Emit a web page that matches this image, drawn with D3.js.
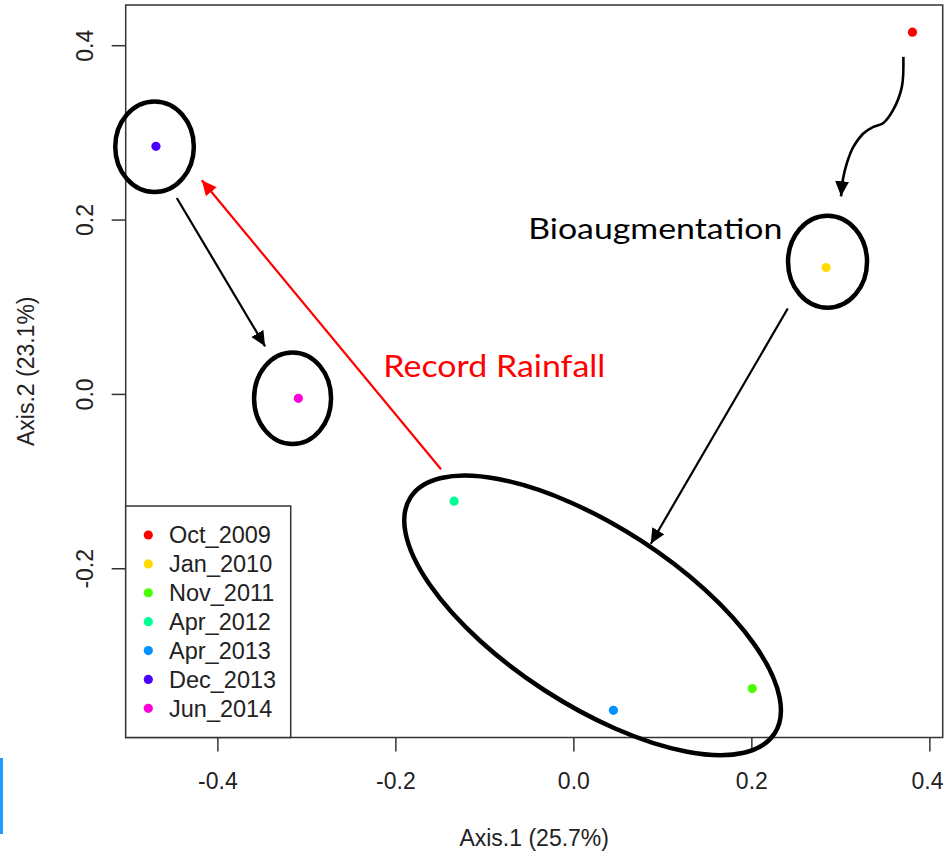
<!DOCTYPE html>
<html>
<head>
<meta charset="utf-8">
<script src="https://cdn.jsdelivr.net/npm/d3@7"></script>
<style>
  body { margin: 0; background: #fff; }
  svg { display: block; }
</style>
</head>
<body>
<div id="canvas"></div>
<script>
// PCoA sample scores
const sampleNames = ["Oct_2009", "Jan_2010", "Nov_2011", "Apr_2012", "Apr_2013", "Dec_2013", "Jun_2014"];
const axis1 = [0.381, 0.284, 0.201, -0.134, 0.045, -0.469, -0.309];
const axis2 = [0.415, 0.145, -0.338, -0.123, -0.363, 0.284, -0.005];
const sampleColors = ["#FF0000", "#FFDB00", "#49FF00", "#00FF92", "#0092FF", "#4900FF", "#FF00DB"];
const xTicks = [-0.4, -0.2, 0.0, 0.2, 0.4];
const yTicks = [-0.2, 0.0, 0.2, 0.4];
const xLabel = "Axis.1 (25.7%)";
const yLabel = "Axis.2 (23.1%)";

const w = 944;
const h = 853;
const plotL = 125.7, plotR = 942.7, plotT = 5, plotB = 737.5;
const font = "'Liberation Sans', Arial, sans-serif";
const noteFont = "Lato, 'Open Sans', sans-serif";

const svg = d3.select("#canvas").append("svg").attr("width", w).attr("height", h);

// R style: extend range by 4% each side
function rRange(vals) {
  const lo = d3.min(vals), hi = d3.max(vals);
  const pad = (hi - lo) * 0.04;
  return [lo - pad, hi + pad];
}
const xScale = d3.scaleLinear().domain(rRange(axis1)).range([plotL, plotR]);
const yScale = d3.scaleLinear().domain(rRange(axis2)).range([plotB, plotT]);

// axes
const xAxis = d3.axisBottom(xScale).tickValues(xTicks).tickSize(14).tickFormat(d => d.toFixed(1));
const gx = svg.append("g").attr("transform", "translate(0," + plotB + ")").call(xAxis);
gx.select(".domain").remove();
gx.selectAll(".tick line").attr("stroke", "#333").attr("stroke-width", 1.5);
gx.selectAll(".tick text").attr("y", 51.5).attr("dy", 0)
  .attr("font-family", font).attr("font-size", 23).attr("fill", "#222");
// last label would run past the window edge: keep it inside
gx.selectAll(".tick text").filter(d => xScale(d) + 20 > w)
  .attr("text-anchor", "end").attr("x", d => w - 1 - xScale(d));

const yAxis = d3.axisLeft(yScale).tickValues(yTicks).tickSize(14).tickFormat(d => d.toFixed(1));
const gy = svg.append("g").attr("transform", "translate(" + plotL + ",0)").call(yAxis);
gy.select(".domain").remove();
gy.selectAll(".tick line").attr("stroke", "#333").attr("stroke-width", 1.5);
gy.selectAll(".tick text").attr("x", 0).attr("y", -33).attr("dy", 0)
  .attr("transform", "rotate(-90)").attr("text-anchor", "middle")
  .attr("font-family", font).attr("font-size", 23).attr("fill", "#222");

svg.append("text").text(xLabel)
  .attr("x", (plotL + plotR) / 2).attr("y", 846).attr("text-anchor", "middle")
  .attr("font-family", font).attr("font-size", 23).attr("fill", "#222");
svg.append("text").text(yLabel)
  .attr("transform", "translate(33.5," + (plotT + plotB) / 2 + ") rotate(-90)")
  .attr("text-anchor", "middle")
  .attr("font-family", font).attr("font-size", 23).attr("fill", "#222");

// plot box
svg.append("rect").attr("x", plotL).attr("y", plotT)
  .attr("width", plotR - plotL).attr("height", plotB - plotT)
  .attr("fill", "none").attr("stroke", "#333").attr("stroke-width", 1.5);

// points
svg.append("g").selectAll("circle")
  .data(sampleNames)
  .enter()
  .append("circle")
  .attr("cx", (d, i) => xScale(axis1[i]))
  .attr("cy", (d, i) => yScale(axis2[i]))
  .attr("r", 4.6)
  .attr("fill", (d, i) => sampleColors[i]);

// legend
const legendTop = 506, legendRight = 290.7;
svg.append("rect").attr("x", plotL).attr("y", legendTop)
  .attr("width", legendRight - plotL).attr("height", plotB - legendTop)
  .attr("fill", "#fff").attr("stroke", "#333").attr("stroke-width", 1.5);
const legendY = d3.scaleLinear().domain([0, sampleNames.length - 1]).range([535, 708.3]);
const legend = svg.append("g").selectAll("g")
  .data(sampleNames)
  .enter()
  .append("g")
  .attr("transform", (d, i) => "translate(0," + legendY(i) + ")");
legend.append("circle").attr("cx", 148.3).attr("cy", 0).attr("r", 4.6)
  .attr("fill", (d, i) => sampleColors[i]);
legend.append("text").text(d => d).attr("x", 169).attr("y", 8.3)
  .attr("font-family", font).attr("font-size", 23.5).attr("fill", "#222");

// ---- annotations (slide overlay), given in data units ----
const defs = svg.append("defs");
function addHead(id, color) {
  defs.append("marker").attr("id", id)
    .attr("viewBox", "0 -8 16 16").attr("markerUnits", "userSpaceOnUse")
    .attr("markerWidth", 16).attr("markerHeight", 16)
    .attr("refX", 15).attr("refY", 0).attr("orient", "auto")
    .append("path").attr("d", "M0,-7L15,0L0,7Z").attr("fill", color);
}
addHead("headBlack", "#000");
addHead("headRed", "#FF0000");

// ellipses: centre x, centre y (data), rx, ry (px), rotation (deg)
const ringX = [-0.4706, 0.2856, -0.3155, 0.0216];
const ringY = [0.2835, 0.1516, -0.005, -0.254];
const ringRx = [39.3, 39.5, 38.5, 217];
const ringRy = [45.3, 46, 45.8, 89];
const ringRot = [0, 0, 0, 33];
svg.append("g").selectAll("ellipse")
  .data(ringX)
  .enter()
  .append("ellipse")
  .attr("transform", (d, i) => "translate(" + xScale(ringX[i]) + "," + yScale(ringY[i]) + ") rotate(" + ringRot[i] + ")")
  .attr("rx", (d, i) => ringRx[i])
  .attr("ry", (d, i) => ringRy[i])
  .attr("fill", "none").attr("stroke", "#000").attr("stroke-width", 4.5);

// straight arrows: from (x1,y1) to (x2,y2)
const arrowX1 = [-0.1487, -0.4456, 0.2409];
const arrowY1 = [-0.0865, 0.2248, 0.0979];
const arrowX2 = [-0.4175, -0.3464, 0.087];
const arrowY2 = [0.2451, 0.0546, -0.1718];
const arrowColor = ["#FF0000", "#000", "#000"];
svg.append("g").selectAll("line")
  .data(arrowX1)
  .enter()
  .append("line")
  .attr("x1", (d, i) => xScale(arrowX1[i]))
  .attr("y1", (d, i) => yScale(arrowY1[i]))
  .attr("x2", (d, i) => xScale(arrowX2[i]))
  .attr("y2", (d, i) => yScale(arrowY2[i]))
  .attr("stroke", (d, i) => arrowColor[i])
  .attr("stroke-width", 2.2)
  .attr("marker-end", (d, i) => i === 0 ? "url(#headRed)" : "url(#headBlack)");

// curved arrow from Oct_2009 down to Jan_2010
const curveX = [0.3708, 0.3691, 0.3592, 0.3480, 0.3371, 0.3258, 0.3146, 0.3072, 0.3027, 0.3008];
const curveY = [0.3866, 0.3522, 0.3254, 0.3105, 0.3063, 0.2987, 0.2833, 0.2643, 0.2451, 0.2267];
const curveLine = d3.line()
  .x((d, i) => xScale(curveX[i]))
  .y((d, i) => yScale(curveY[i]))
  .curve(d3.curveCatmullRom);
svg.append("path").attr("d", curveLine(curveX))
  .attr("fill", "none").attr("stroke", "#000").attr("stroke-width", 2.6)
  .attr("marker-end", "url(#headBlack)");

// labels
svg.append("text").text("Bioaugmentation")
  .attr("x", 528.3).attr("y", 239.3)
  .attr("textLength", 254).attr("lengthAdjust", "spacingAndGlyphs")
  .attr("font-family", noteFont).attr("font-size", 28).attr("fill", "#000");
svg.append("text").text("Record Rainfall")
  .attr("x", 383.3).attr("y", 376.7)
  .attr("textLength", 222).attr("lengthAdjust", "spacingAndGlyphs")
  .attr("font-family", noteFont).attr("font-size", 31).attr("fill", "#FF0000");

// slide edge mark at lower left
svg.append("rect").attr("x", 0).attr("y", 758).attr("width", 3).attr("height", 76).attr("fill", "#1E9BFF");
</script>
</body>
</html>
